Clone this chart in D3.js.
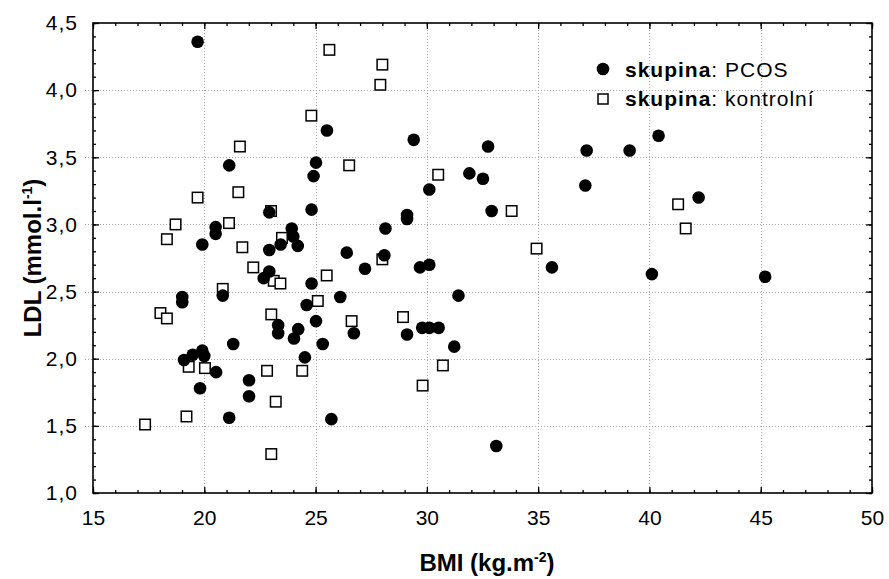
<!DOCTYPE html>
<html lang="cs">
<head>
<meta charset="utf-8">
<title>LDL vs BMI</title>
<script src="https://cdnjs.cloudflare.com/ajax/libs/d3/7.8.5/d3.min.js"></script>
<style>
  body { margin: 0; background: #fff; }
  svg { font-family: "Liberation Sans", Arial, sans-serif; }
  .grid line { stroke: #a8a8a8; stroke-dasharray: 1,2; shape-rendering: crispEdges; }
  .grid path, .axis path { display: none; }
  .axis line { stroke: #000; stroke-width: 1.3; }
  .axis text { font-size: 21px; fill: #000; }
  .yaxis text { letter-spacing: 1px; }
  .title { font-size: 24px; font-weight: bold; }
  .legend text { font-size: 21px; letter-spacing: 1px; }
</style>
</head>
<body>
<script>
// skupina: PCOS
var pcosBmi = [19.70, 25.51, 21.12, 25.02, 24.91, 24.82, 22.92, 20.51, 20.51, 19.91,
  23.93, 24.00, 23.43, 24.20, 22.92, 26.40, 22.92, 22.67, 24.82, 27.22,
  26.11, 19.01, 19.01, 20.83, 24.60, 23.32, 23.32, 24.22, 24.03, 25.02,
  26.72, 25.32, 21.30, 24.52, 19.09, 19.48, 19.91, 20.00, 20.53, 19.81,
  22.01, 22.01, 21.12, 25.71, 29.41, 32.75, 37.18, 31.91, 32.52, 30.11,
  37.12, 32.91, 29.11, 29.11, 28.14, 28.09, 29.69, 30.11, 35.62, 31.42,
  29.11, 29.79, 30.11, 30.53, 31.23, 33.12, 39.11, 40.41, 42.21, 40.11, 45.20];
var pcosLdl = [4.36, 3.70, 3.44, 3.46, 3.36, 3.11, 3.09, 2.98, 2.93, 2.85,
  2.97, 2.91, 2.85, 2.84, 2.81, 2.79, 2.65, 2.60, 2.56, 2.67,
  2.46, 2.46, 2.42, 2.47, 2.40, 2.25, 2.19, 2.22, 2.15, 2.28,
  2.19, 2.11, 2.11, 2.01, 1.99, 2.03, 2.06, 2.02, 1.90, 1.78,
  1.84, 1.72, 1.56, 1.55, 3.63, 3.58, 3.55, 3.38, 3.34, 3.26,
  3.29, 3.10, 3.07, 3.04, 2.97, 2.77, 2.68, 2.70, 2.68, 2.47,
  2.18, 2.23, 2.23, 2.23, 2.09, 1.35, 3.55, 3.66, 3.20, 2.63, 2.61];

// skupina: kontrolní
var kontrolBmi = [25.62, 28.00, 27.91, 24.81, 21.60, 26.51, 30.51, 19.70, 21.53, 23.00,
  33.81, 18.71, 21.11, 18.32, 23.49, 21.71, 34.93, 28.00, 22.20, 23.12,
  23.42, 25.50, 20.83, 18.03, 18.32, 25.10, 23.01, 26.62, 28.93, 19.30,
  20.03, 22.82, 24.40, 30.72, 29.81, 23.21, 19.20, 17.34, 23.01, 41.29, 41.63];
var kontrolLdl = [4.30, 4.19, 4.04, 3.81, 3.58, 3.44, 3.37, 3.20, 3.24, 3.10,
  3.10, 3.00, 3.01, 2.89, 2.90, 2.83, 2.82, 2.74, 2.68, 2.58,
  2.56, 2.62, 2.52, 2.34, 2.30, 2.43, 2.33, 2.28, 2.31, 1.94,
  1.93, 1.91, 1.91, 1.95, 1.80, 1.68, 1.57, 1.51, 1.29, 3.15, 2.97];

var xTicks = [15, 20, 25, 30, 35, 40, 45, 50];
var yTicks = [1.0, 1.5, 2.0, 2.5, 3.0, 3.5, 4.0, 4.5];
var yTickLabels = ["1,0", "1,5", "2,0", "2,5", "3,0", "3,5", "4,0", "4,5"];
var legendLabels = ["PCOS", "kontrolní"];

var w = 889, h = 579;
var m = {top: 23, right: 17, bottom: 86, left: 93};

var xScale = d3.scaleLinear().domain([15, 50]).range([m.left, w - m.right]);
var yScale = d3.scaleLinear().domain([1, 4.5]).range([h - m.bottom, m.top]);

var svg = d3.select("body").append("svg")
  .attr("width", w)
  .attr("height", h);

// dotted grid
svg.append("g")
  .attr("class", "grid")
  .attr("transform", "translate(0," + (h - m.bottom) + ")")
  .call(d3.axisBottom(xScale).tickValues(xTicks.slice(1, -1))
    .tickSize(-(h - m.top - m.bottom)).tickFormat(""));

svg.append("g")
  .attr("class", "grid")
  .attr("transform", "translate(" + (w - m.right) + ",0)")
  .call(d3.axisLeft(yScale).tickValues(yTicks.slice(1, -1))
    .tickSize(w - m.left - m.right + 8).tickFormat(""));

// minor ticks on all four sides
var xMinor = d3.range(15, 51, 1);
var yMinor = d3.range(10, 46, 1).map(function(d) { return d / 10; });

svg.append("g").attr("class", "axis")
  .attr("transform", "translate(0," + (h - m.bottom) + ")")
  .call(d3.axisBottom(xScale).tickValues(xMinor).tickSize(-3).tickFormat(""));
svg.append("g").attr("class", "axis")
  .attr("transform", "translate(0," + m.top + ")")
  .call(d3.axisTop(xScale).tickValues(xMinor).tickSize(-3).tickFormat(""));
svg.append("g").attr("class", "axis")
  .attr("transform", "translate(" + m.left + ",0)")
  .call(d3.axisLeft(yScale).tickValues(yMinor).tickSize(-3).tickFormat(""));
svg.append("g").attr("class", "axis")
  .attr("transform", "translate(" + (w - m.right) + ",0)")
  .call(d3.axisRight(yScale).tickValues(yMinor).tickSize(-3).tickFormat(""));

// major ticks + labels
svg.append("g").attr("class", "axis")
  .attr("transform", "translate(0," + (h - m.bottom) + ")")
  .call(d3.axisBottom(xScale).tickValues(xTicks).tickSize(-6).tickPadding(17)
    .tickFormat(function(d) { return d; }));
svg.append("g").attr("class", "axis")
  .attr("transform", "translate(0," + m.top + ")")
  .call(d3.axisTop(xScale).tickValues(xTicks).tickSize(-6).tickFormat(""));
svg.append("g").attr("class", "axis yaxis")
  .attr("transform", "translate(" + m.left + ",0)")
  .call(d3.axisLeft(yScale).tickValues(yTicks).tickSize(-6).tickPadding(15)
    .tickFormat(function(d, i) { return yTickLabels[i]; }));
svg.append("g").attr("class", "axis")
  .attr("transform", "translate(" + (w - m.right) + ",0)")
  .call(d3.axisRight(yScale).tickValues(yTicks).tickSize(-6).tickFormat(""));

// frame
svg.append("rect")
  .attr("x", m.left).attr("y", m.top)
  .attr("width", w - m.left - m.right)
  .attr("height", h - m.top - m.bottom)
  .attr("fill", "none")
  .attr("stroke", "#000")
  .attr("stroke-width", 1.6);

// points
var kontrol = kontrolBmi.map(function(d, i) { return [d, kontrolLdl[i]]; });
var pcos = pcosBmi.map(function(d, i) { return [d, pcosLdl[i]]; });
var sq = 10.5;

svg.append("g").selectAll("rect")
  .data(kontrol)
  .enter().append("rect")
  .attr("x", function(d) { return xScale(d[0]) - sq / 2; })
  .attr("y", function(d) { return yScale(d[1]) - sq / 2; })
  .attr("width", sq).attr("height", sq)
  .attr("fill", "#fff")
  .attr("stroke", "#000")
  .attr("stroke-width", 1.5);

svg.append("g").selectAll("circle")
  .data(pcos)
  .enter().append("circle")
  .attr("cx", function(d) { return xScale(d[0]); })
  .attr("cy", function(d) { return yScale(d[1]); })
  .attr("r", 6.3)
  .attr("fill", "#000");

// axis titles
var xt = svg.append("text").attr("class", "title")
  .attr("x", 487).attr("y", 571)
  .attr("text-anchor", "middle");
xt.append("tspan").text("BMI (kg.m");
xt.append("tspan").attr("dy", -9).style("font-size", "14px").text("-2");
xt.append("tspan").attr("dy", 9).text(")");

var yt = svg.append("text").attr("class", "title")
  .attr("transform", "translate(41," + (m.top + h - m.bottom) / 2 + ") rotate(-90)")
  .attr("text-anchor", "middle");
yt.append("tspan").text("LDL (mmol.l");
yt.append("tspan").attr("dy", -9).style("font-size", "14px").text("-1");
yt.append("tspan").attr("dy", 9).text(")");

// legend
var lg = svg.append("g").attr("class", "legend");
lg.append("circle").attr("cx", 603).attr("cy", 69).attr("r", 6.3).attr("fill", "#000");
lg.append("rect").attr("x", 598).attr("y", 94).attr("width", 10).attr("height", 10)
  .attr("fill", "#fff").attr("stroke", "#000").attr("stroke-width", 1.5);

legendLabels.forEach(function(lab, i) {
  var t = lg.append("text").attr("x", 625).attr("y", 77 + i * 29);
  t.append("tspan").style("font-weight", "bold").text("skupina");
  t.append("tspan").text(": " + lab);
});
</script>
</body>
</html>
